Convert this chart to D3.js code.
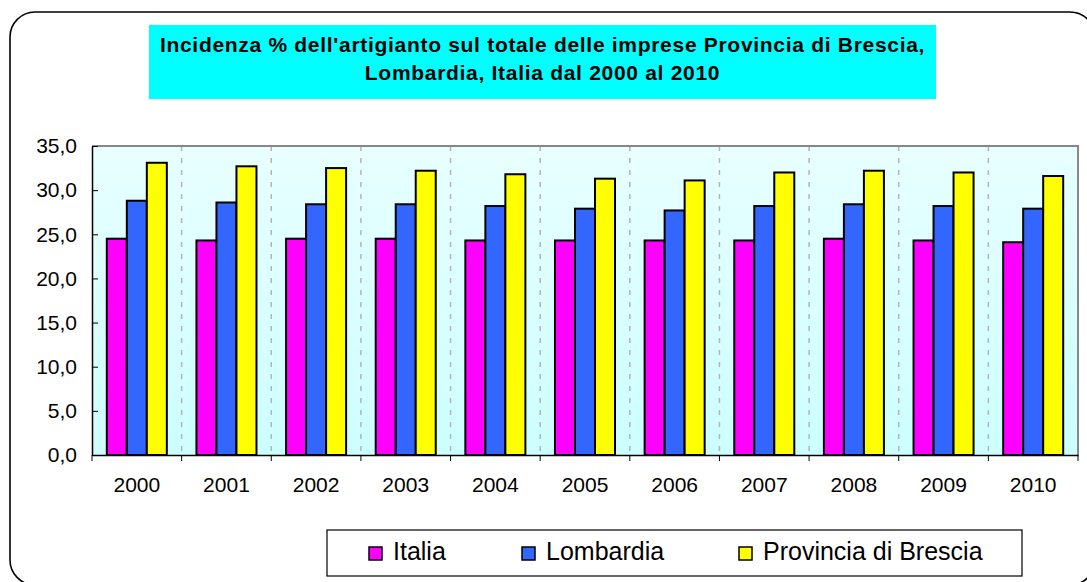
<!DOCTYPE html>
<html>
<head>
<meta charset="utf-8">
<style>
    body { margin: 0; background: #fff; }
    svg { display: block; font-family: "Liberation Sans", Arial, sans-serif; }
</style>
</head>
<body>
<svg width="1087" height="582"></svg>
<script src="https://d3js.org/d3.v7.min.js"></script>
<script>

    var years = ["2000", "2001", "2002", "2003", "2004", "2005", "2006", "2007", "2008", "2009", "2010"];
    var seriesNames = ["Italia", "Lombardia", "Provincia di Brescia"];
    var italia    = [24.5, 24.3, 24.5, 24.5, 24.3, 24.3, 24.3, 24.3, 24.5, 24.3, 24.1];
    var lombardia = [28.8, 28.6, 28.4, 28.4, 28.2, 27.9, 27.7, 28.2, 28.4, 28.2, 27.9];
    var brescia   = [33.1, 32.7, 32.5, 32.2, 31.8, 31.3, 31.1, 32.0, 32.2, 32.0, 31.6];
    var yTicks = [0, 5, 10, 15, 20, 25, 30, 35];
    var titleLines = ["Incidenza % dell'artigianto sul totale delle imprese Provincia di Brescia,",
                      "Lombardia, Italia dal 2000 al 2010"];

    var colors = ["#ff00ff", "#3366ff", "#ffff00"];
    var values = [italia, lombardia, brescia];

    var svg = d3.select("svg");

    // outer rounded frame
    svg.append("rect")
        .attr("x", 10).attr("y", 12)
        .attr("width", 1085).attr("height", 573)
        .attr("rx", 25).attr("ry", 25)
        .attr("fill", "#fff")
        .attr("stroke", "#000")
        .attr("stroke-width", 1.6);

    // title
    svg.append("rect")
        .attr("x", 149).attr("y", 25)
        .attr("width", 787).attr("height", 74)
        .attr("fill", "#00ffff");

    svg.selectAll(".title")
        .data(titleLines)
        .enter().append("text")
        .attr("class", "title")
        .attr("x", 542.5)
        .attr("y", function(d, i) { return 52 + i * 28; })
        .attr("text-anchor", "middle")
        .attr("font-weight", "bold")
        .attr("font-size", "21px")
        .attr("letter-spacing", "0.7px")
        .text(function(d) { return d; });

    var margin = {left: 92, top: 146},
        width = 1078 - 92,
        height = 455 - 146,
        g = svg.append("g").attr("transform", "translate(" + margin.left + "," + margin.top + ")");

    var x = d3.scaleBand().domain(years).range([0, width]).padding(0);
    var xs = d3.scaleBand().domain(seriesNames).range([0, x.bandwidth()])
        .paddingInner(0).paddingOuter(0.74);
    var y = d3.scaleLinear().domain([0, 35]).range([height, 0]);

    var it = d3.formatLocale({decimal: ",", thousands: ".", grouping: [3], currency: ["", "€"]});
    var fmt = it.format(".1f");

    // plot background
    var grad = svg.append("defs").append("linearGradient")
        .attr("id", "bg").attr("x1", 0).attr("y1", 0).attr("x2", 0).attr("y2", 1);
    grad.append("stop").attr("offset", "0%").attr("stop-color", "#e8ffff");
    grad.append("stop").attr("offset", "100%").attr("stop-color", "#ccffff");

    g.append("rect")
        .attr("width", width).attr("height", height)
        .attr("fill", "url(#bg)");

    // dashed separators between years
    g.selectAll(".sep")
        .data(years.slice(1))
        .enter().append("line")
        .attr("class", "sep")
        .attr("x1", function(d) { return x(d); })
        .attr("x2", function(d) { return x(d); })
        .attr("y1", 0).attr("y2", height)
        .attr("stroke", "#b4b4b4")
        .attr("stroke-width", 1.5)
        .attr("stroke-dasharray", "5,7");

    // top and right border
    g.append("path")
        .attr("d", "M0,0H" + width + "V" + height)
        .attr("fill", "none")
        .attr("stroke", "#888")
        .attr("stroke-width", 2);

    // bars
    var groups = g.selectAll(".year")
        .data(years)
        .enter().append("g")
        .attr("class", "year")
        .attr("transform", function(d) { return "translate(" + x(d) + ",0)"; });

    groups.selectAll("rect")
        .data(function(d, i) {
            return seriesNames.map(function(s, k) { return {s: s, k: k, v: values[k][i]}; });
        })
        .enter().append("rect")
        .attr("x", function(d) { return xs(d.s); })
        .attr("width", xs.bandwidth())
        .attr("y", function(d) { return y(d.v); })
        .attr("height", function(d) { return height - y(d.v); })
        .attr("fill", function(d) { return colors[d.k]; })
        .attr("stroke", "#000")
        .attr("stroke-width", 2);

    // y axis
    var yAxis = g.append("g")
        .call(d3.axisLeft(y).tickValues(yTicks).tickFormat(fmt).tickSizeInner(-6).tickSizeOuter(0).tickPadding(15));
    yAxis.select(".domain").attr("stroke-width", 1.5);
    yAxis.selectAll("text").attr("font-size", "21px").attr("font-family", "Liberation Sans, Arial, sans-serif").attr("fill", "#000");

    // x axis
    var xAxis = g.append("g")
        .attr("transform", "translate(0," + height + ")")
        .call(d3.axisBottom(x).tickSize(0).tickPadding(22));
    xAxis.select(".domain").attr("stroke-width", 1.5);
    xAxis.selectAll("text").attr("font-size", "21px").attr("font-family", "Liberation Sans, Arial, sans-serif").attr("fill", "#000");

    xAxis.selectAll(".bound")
        .data(years.map(function(d) { return x(d); }).concat([x.range()[1]]))
        .enter().append("line")
        .attr("class", "bound")
        .attr("x1", function(d) { return d; })
        .attr("x2", function(d) { return d; })
        .attr("y1", 0).attr("y2", 6)
        .attr("stroke", "#000");

    // legend
    var legend = svg.append("g").attr("transform", "translate(327,530)");
    legend.append("rect")
        .attr("width", 695).attr("height", 46)
        .attr("fill", "#fff")
        .attr("stroke", "#000")
        .attr("stroke-width", 1.2);

    var legX = [42, 195, 412];
    var items = legend.selectAll(".item")
        .data(seriesNames)
        .enter().append("g")
        .attr("class", "item")
        .attr("transform", function(d, i) { return "translate(" + legX[i] + ",0)"; });

    items.append("rect")
        .attr("x", 0).attr("y", 17)
        .attr("width", 13).attr("height", 13)
        .attr("fill", function(d, i) { return colors[i]; })
        .attr("stroke", "#000")
        .attr("stroke-width", 1.5);

    items.append("text")
        .attr("x", 24).attr("y", 30)
        .attr("font-size", "25px")
        .text(function(d) { return d; });

</script>
</body>
</html>
